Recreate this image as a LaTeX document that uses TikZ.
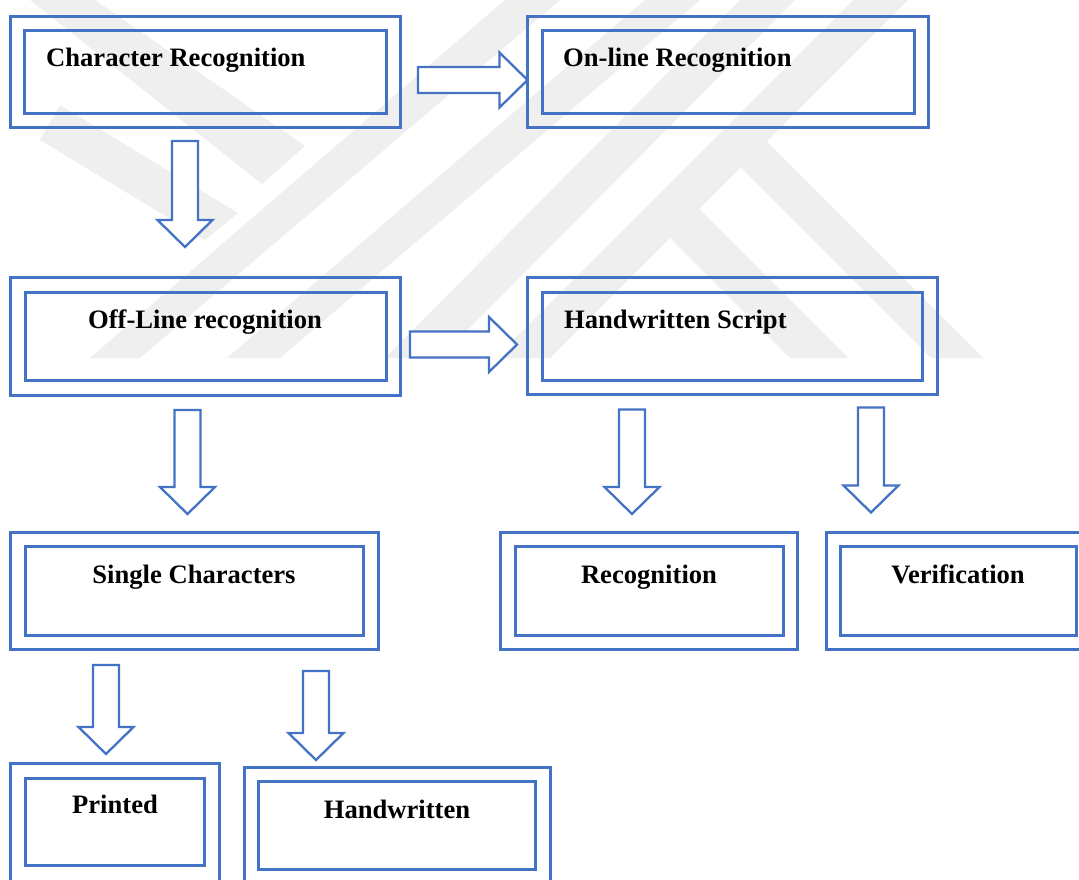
\documentclass[tikz,border=0pt]{standalone}
\usepackage{fontspec}
\setmainfont{Liberation Serif}
\usetikzlibrary{calc}
\definecolor{boxblue}{HTML}{4472C4}
\definecolor{wmgray}{HTML}{EFEFEF}
\tikzset{
  boxline/.style={draw=boxblue, line width=3pt, rectangle, inner sep=0pt, outer sep=0pt},
  boxlabel/.style={font=\fontsize{26.6}{30}\selectfont\bfseries, inner sep=0pt, text=black},
  barrow/.style={draw=boxblue, fill=white, line width=2.3pt, line join=miter},
  wmark/.style={fill=wmgray, draw=none},
}
\newcommand\barrowdown[2]{%
  \draw[barrow] let \p1=(#1), \p2=(#2) in
    (\x1-13pt,\y1) -- (\x1+13pt,\y1) -- (\x1+13pt,\y2+27pt) -- (\x1+27.5pt,\y2+27pt)
    -- (\x1,\y2) -- (\x1-27.5pt,\y2+27pt) -- (\x1-13pt,\y2+27pt) -- cycle;}
\newcommand\barrowright[2]{%
  \draw[barrow] let \p1=(#1), \p2=(#2) in
    (\x1,\y1+13pt) -- (\x2-28pt,\y1+13pt) -- (\x2-28pt,\y1+27.5pt) -- (\x2,\y1)
    -- (\x2-28pt,\y1-27.5pt) -- (\x2-28pt,\y1-13pt) -- (\x1,\y1-13pt) -- cycle;}
\begin{document}
\begin{tikzpicture}[x=1pt,y=-1pt]
\useasboundingbox (0,0) rectangle (1079,879);
\clip (0,0) rectangle (1079,879);
\fill[white] (0,0) rectangle (1079,879);
% watermark
\begin{scope}
  \clip (0,0) rectangle (1079,358);
  \fill[wmark] (30,0) -- (95,0) -- (305,146) -- (262,184) -- cycle;
  \fill[wmark] (60,105) -- (238,213) -- (205,240) -- (40,140) -- cycle;
  \fill[wmark] (90,358) -- (140,358) -- (560,0) -- (505,0) -- cycle;
  \fill[wmark] (227,358) -- (280,358) -- (700,0) -- (645,0) -- cycle;
  \fill[wmark] (385,358) -- (440,358) -- (795,0) -- (740,0) -- cycle;
  \fill[wmark] (495,358) -- (550,358) -- (908,0) -- (853,0) -- cycle;
  \fill[wmark] (740.5,167.5) -- (766.5,141.5) -- (983,358) -- (931,358) -- cycle;
  \fill[wmark] (670,238) -- (699,209) -- (848,358) -- (790,358) -- cycle;
\end{scope}
% boxes
\node[boxline, minimum width=390pt, minimum height=111pt] (cr) at (205,71.5) {};
\node[boxline, minimum width=362pt, minimum height=82.5pt] (cri) at (205,71.75) {};
\node[boxline, minimum width=401pt, minimum height=111pt] (or) at (728,71.5) {};
\node[boxline, minimum width=372.5pt, minimum height=82.5pt] (ori) at (728.25,71.75) {};
\node[boxline, minimum width=390pt, minimum height=118pt] (ol) at (205,336) {};
\node[boxline, minimum width=361pt, minimum height=88pt] (oli) at (205.5,336) {};
\node[boxline, minimum width=409.5pt, minimum height=117pt] (hs) at (732.25,335.5) {};
\node[boxline, minimum width=380.5pt, minimum height=88pt] (hsi) at (732.25,336) {};
\node[boxline, minimum width=367.5pt, minimum height=117pt] (sc) at (194.25,590.5) {};
\node[boxline, minimum width=338.5pt, minimum height=89pt] (sci) at (194.25,590.5) {};
\node[boxline, minimum width=297.5pt, minimum height=117pt] (rec) at (648.75,590.5) {};
\node[boxline, minimum width=268pt, minimum height=89pt] (reci) at (649,590.5) {};
\node[boxline, minimum width=266pt, minimum height=117pt] (ver) at (959,590.5) {};
\node[boxline, minimum width=236.5pt, minimum height=89pt] (veri) at (958.25,590.5) {};
\node[boxline, minimum width=208.5pt, minimum height=119pt] (pr) at (114.75,822.5) {};
\node[boxline, minimum width=179.5pt, minimum height=87.5pt] (pri) at (114.75,821.75) {};
\node[boxline, minimum width=306pt, minimum height=117pt] (hw) at (397,825.5) {};
\node[boxline, minimum width=277.5pt, minimum height=88pt] (hwi) at (396.75,825) {};
% arrow end points
\coordinate (r1a) at (418,80);    \coordinate (r1b) at (527.5,80);
\coordinate (r2a) at (410,344.5); \coordinate (r2b) at (517,344.5);
\coordinate (d1a) at (185,141);   \coordinate (d1b) at (185,247);
\coordinate (d2a) at (187.5,410); \coordinate (d2b) at (187.5,514);
\coordinate (d3a) at (632,409.5); \coordinate (d3b) at (632,514);
\coordinate (d4a) at (871,407.5); \coordinate (d4b) at (871,512.5);
\coordinate (d5a) at (106,665);   \coordinate (d5b) at (106,754);
\coordinate (d6a) at (316,671);   \coordinate (d6b) at (316,760);
\barrowright{r1a}{r1b}
\barrowright{r2a}{r2b}
\barrowdown{d1a}{d1b}
\barrowdown{d2a}{d2b}
\barrowdown{d3a}{d3b}
\barrowdown{d4a}{d4b}
\barrowdown{d5a}{d5b}
\barrowdown{d6a}{d6b}
% labels
\node[boxlabel, anchor=base west] (crt) at (46,66) {Character Recognition};
\node[boxlabel, anchor=base west] (ort) at (563,66) {On-line Recognition};
\node[boxlabel, anchor=base] (olt) at (205,328) {Off-Line recognition};
\node[boxlabel, anchor=base west] (hst) at (564,328) {Handwritten Script};
\node[boxlabel, anchor=base] (sct) at (194,583) {Single Characters};
\node[boxlabel, anchor=base] (rect) at (649,583) {Recognition};
\node[boxlabel, anchor=base] (vert) at (958,583) {Verification};
\node[boxlabel, anchor=base] (prt) at (115,813) {Printed};
\node[boxlabel, anchor=base] (hwt) at (397,818) {Handwritten};
\end{tikzpicture}
\end{document}
